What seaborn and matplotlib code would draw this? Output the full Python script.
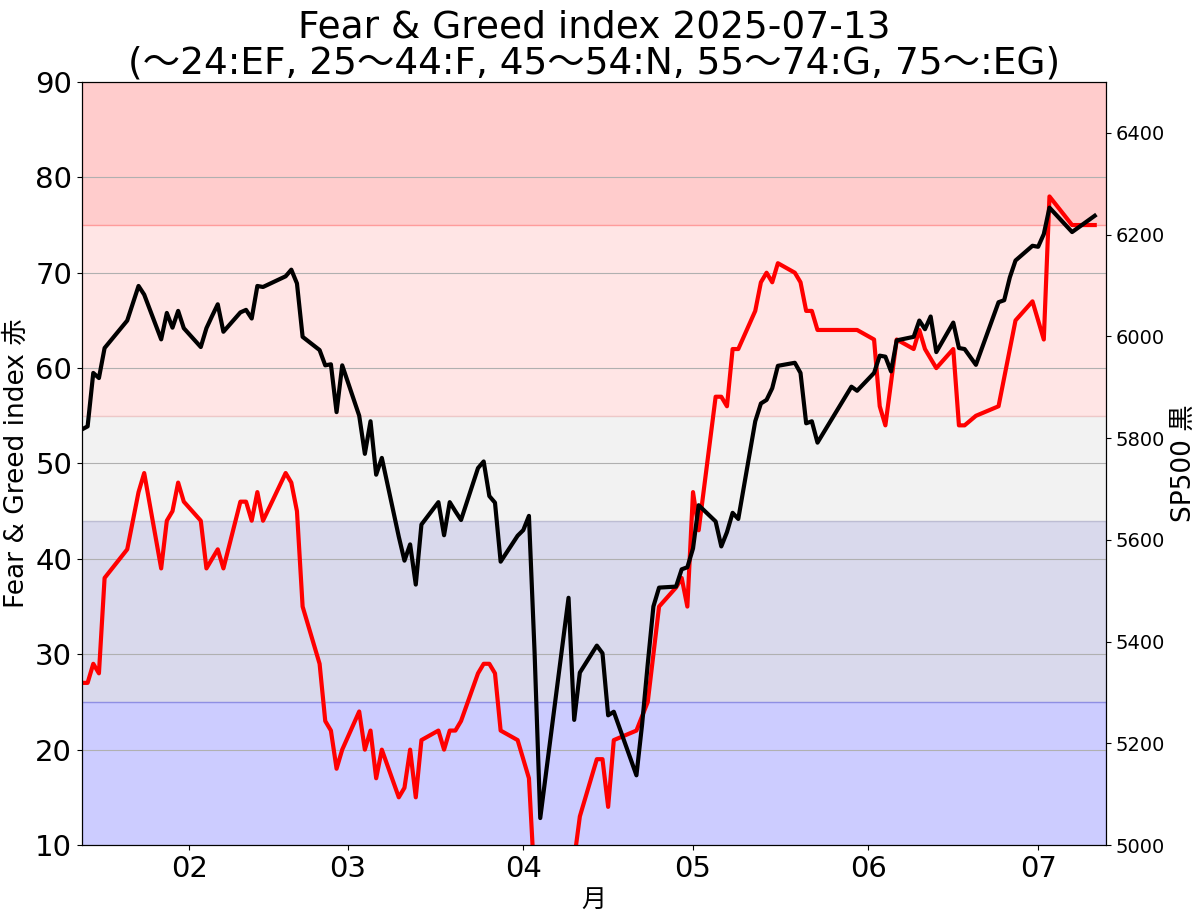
import pandas as pd
import matplotlib
matplotlib.use("Agg")
import matplotlib.pyplot as plt
import matplotlib.dates as mdates
import seaborn as sns

# trading days present in the data, per month (2025)
days_by_month = {
    1: [13, 14, 15, 16, 17, 21, 22, 23, 24, 27, 28, 29, 30, 31],
    2: [3, 4, 5, 6, 7, 10, 11, 12, 13, 14, 18, 19, 20, 21, 24, 25, 26, 27, 28],
    3: [3, 4, 5, 6, 7, 10, 11, 12, 13, 14, 17, 18, 19, 20, 21, 24, 25, 26, 27, 28, 31],
    4: [1, 2, 3, 4, 9, 10, 11, 14, 15, 16, 17, 21, 22, 23, 24, 25, 28, 29, 30],
    5: [1, 2, 5, 6, 7, 8, 9, 12, 13, 14, 15, 16, 19, 20, 21, 22, 23, 29, 30],
    6: [2, 3, 4, 5, 6, 9, 10, 11, 12, 13, 16, 17, 18, 20, 24, 25, 26, 27, 30],
    7: [1, 2, 3, 7, 11],
}

# Fear & Greed index (red, left axis)
fear_greed = [
    27, 27, 29, 28, 38, 41, 44, 47, 49, 39, 44, 45, 48, 46,
    44, 39, 40, 41, 39, 46, 46, 44, 47, 44, 49, 48, 45, 35, 29, 23, 22, 18, 20,
    24, 20, 22, 17, 20, 15, 16, 20, 15, 21, 22, 20, 22, 22, 23, 28, 29, 29, 28, 22, 21,
    19, 17, 6, 4, 5, 8.5, 13, 19, 19, 14, 21, 22, 23.5, 25, 30, 35, 37, 38, 35,
    47, 43, 57, 57, 56, 62, 62, 66, 69, 70, 69, 71, 70, 69, 66, 66, 64, 64, 64,
    63, 56, 54, 58.5, 63, 62, 64, 62, 61, 60, 62, 54, 54, 55, 56, 59, 62, 65, 67,
    65, 63, 78, 75, 75,
]

# SP500 (black, right axis)
sp500 = [
    5817, 5823, 5928, 5918, 5977, 6031, 6065, 6099, 6082, 5994, 6046, 6017, 6050, 6016,
    5979, 6016, 6040, 6063, 6009, 6047, 6052, 6035, 6099, 6097, 6118, 6131, 6104, 5999,
    5973, 5943, 5945, 5851, 5943,
    5844, 5769, 5833, 5728, 5761, 5606, 5559, 5591, 5512, 5630, 5674, 5609, 5674, 5656,
    5639, 5741, 5754, 5686, 5673, 5557, 5608,
    5619, 5647, 5378, 5053, 5486, 5246, 5339, 5392, 5377, 5255, 5262, 5137, 5237, 5356,
    5469, 5506, 5508, 5542, 5546,
    5583, 5668, 5636, 5587, 5615, 5653, 5641, 5833, 5868, 5875, 5898, 5942, 5948, 5928,
    5829, 5833, 5791, 5901, 5893,
    5928, 5962, 5960, 5931, 5992, 5999, 6031, 6014, 6039, 5969, 6027, 5977, 5975, 5944,
    6067, 6071, 6116, 6149, 6178,
    6176, 6201, 6253, 6205, 6237,
]

# sentiment bands: (low, high, colour, alpha)
bands = [
    (0, 25, "blue", 0.2),
    (25, 44, "navy", 0.15),
    (44, 55, "gray", 0.1),
    (55, 75, "red", 0.1),
    (75, 100, "red", 0.2),
]

dates = pd.to_datetime([f"2025-{m:02d}-{d:02d}" for m, ds in days_by_month.items() for d in ds])
df = pd.DataFrame({"date": dates, "fg": fear_greed, "sp500": sp500})

plt.rcParams['font.family'] = ['DejaVu Sans', 'Noto Sans CJK JP']

fig = plt.figure(figsize=(12, 9.18), dpi=100)
ax = fig.add_axes([0.0683, 0.0795, 0.8534, 0.8312])

for lo, hi, col, a in bands:
    ax.axhspan(lo, hi, color=col, alpha=a)

sns.lineplot(data=df, x="date", y="fg", ax=ax, color="red", linewidth=3)
ax.set_ylim(10, 90)
ax.set_xlim(pd.Timestamp("2025-01-13"), pd.Timestamp("2025-07-13"))
ax.grid(axis="y")
ax.set_ylabel("Fear & Greed index 赤", fontsize=19)
ax.set_xlabel("月", fontsize=18)
ax.xaxis.set_major_locator(mdates.MonthLocator())
ax.xaxis.set_major_formatter(mdates.DateFormatter("%m"))
ax.tick_params(axis="y", labelsize=21)
ax.tick_params(axis="x", labelsize=21)

ax2 = ax.twinx()
sns.lineplot(data=df, x="date", y="sp500", ax=ax2, color="black", linewidth=3)
ax2.set_ylim(5000, 6500)
ax2.set_ylabel("SP500 黒", fontsize=19)
ax2.tick_params(axis="y", labelsize=14)

ax.set_title("Fear & Greed index 2025-07-13\n(～24:EF, 25～44:F, 45～54:N, 55～74:G, 75～:EG)",
             fontsize=27, linespacing=1.0, pad=4)

fig.savefig("out.png", dpi=100)
